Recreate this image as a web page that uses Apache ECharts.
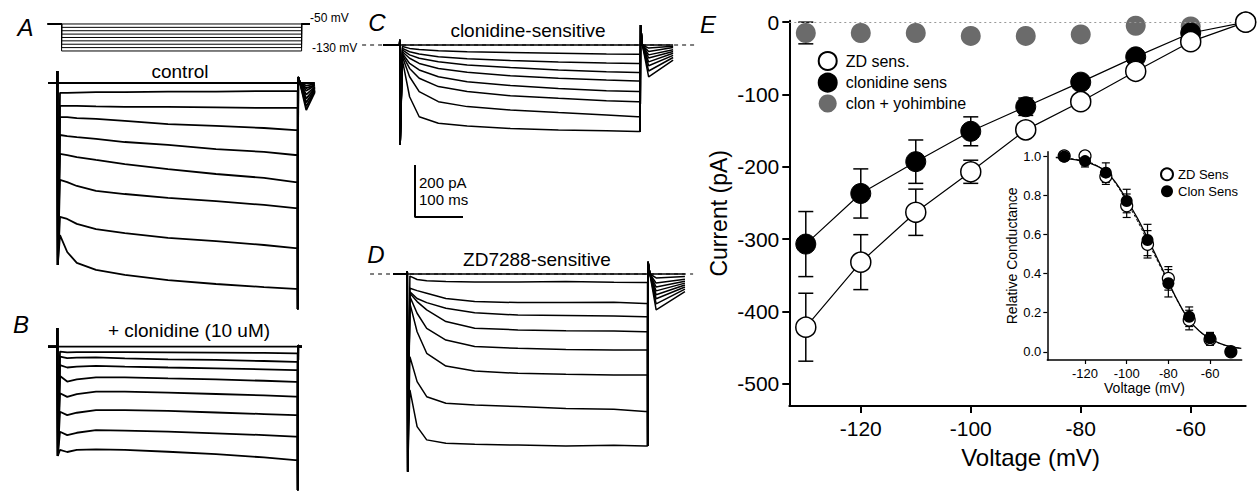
<!DOCTYPE html>
<html>
<head>
<meta charset="utf-8">
<title>Ih: clonidine- and ZD7288-sensitive currents</title>
<script src="https://cdn.jsdelivr.net/npm/echarts@6.0.0/dist/echarts.min.js"></script>
<style>
  html, body { margin: 0; padding: 0; background: #fff; }
  #fig { width: 1260px; height: 491px; }
</style>
</head>
<body>
<div id="fig"></div>
<script>
var FONT = '"Liberation Sans", Arial, Helvetica, sans-serif';

// ---------- panel E: I-V relation (pA) ----------
var voltages    = [-130, -120, -110, -100, -90, -80, -70, -60, -50];
var zdCurrent   = [-422, -332, -263, -207, -149, -110, -68, -27, 0];
var zdErr       = [47, 38, 32, 16, 8, 6, 5, 4, 0];
var clonCurrent = [-307, -237, -193, -151, -117, -83, -48, -15, 0];
var clonErr     = [45, 34, 30, 20, 12, 5, 4, 3, 0];
var yohVoltages = [-130, -120, -110, -100, -90, -80, -70, -60];
var yohCurrent  = [-15, -15, -15, -19, -19, -17, -5, -6];
var yohErr      = [15, 0, 0, 0, 0, 0, 0, 0];

// ---------- inset: relative conductance ----------
var zdG       = [1.0, 1.0, 0.895, 0.746, 0.549, 0.375, 0.162, 0.063, 0.0];
var zdGErr    = [0.01, 0.02, 0.04, 0.06, 0.07, 0.06, 0.05, 0.03, 0.01];
var clonG     = [0.997, 0.974, 0.915, 0.77, 0.571, 0.35, 0.179, 0.069, 0.0];
var clonGErr  = [0.01, 0.03, 0.05, 0.06, 0.08, 0.07, 0.05, 0.03, 0.01];
var fitVolt   = [-134, -130, -125, -120, -115, -110, -105, -100, -95, -90, -85, -80, -75, -70, -65, -60, -55, -50, -45];
var clonFit   = [0.992, 0.988, 0.981, 0.971, 0.952, 0.92, 0.86, 0.775, 0.685, 0.58, 0.47, 0.358, 0.25, 0.162, 0.105, 0.068, 0.042, 0.026, 0.017];
var zdFit     = [0.994, 0.99, 0.984, 0.974, 0.955, 0.918, 0.855, 0.765, 0.672, 0.565, 0.46, 0.352, 0.248, 0.163, 0.104, 0.066, 0.041, 0.026, 0.017];

// ---------- voltage-clamp traces (pA), read at these times (ms) ----------
var traceTimes = [25, 40, 60, 100, 160, 250, 350, 450, 515];
var STEP_ON = 20, STEP_OFF = 520, TAIL_PEAK = 538;

var controlTraces = [
  [-38, -38, -37, -35, -35, -33, -33, -31, -31],
  [-88, -88, -88, -90, -92, -92, -94, -96, -96],
  [-131, -131, -135, -138, -146, -158, -165, -173, -181],
  [-200, -204, -208, -215, -227, -238, -254, -265, -277],
  [-273, -277, -285, -296, -312, -331, -350, -365, -381],
  [-373, -381, -396, -415, -427, -442, -454, -469, -481],
  [-515, -523, -542, -562, -577, -596, -608, -623, -635],
  [-585, -650, -692, -719, -738, -758, -773, -785, -792]
];
var controlEdges = [46, -700, 23, -870];     // on spike, on dip, off spike, off dip
var controlTails = [[-10, -4], [-20, -8], [-30, -10], [-45, -15], [-60, -20], [-75, -25], [-90, -30], [-104, -35]];

var clonidineTraces = [
  [-19, -22, -21, -21, -21, -22, -23, -24, -26],
  [-38, -44, -42, -41, -45, -49, -51, -55, -58],
  [-71, -80, -77, -74, -77, -80, -83, -87, -90],
  [-113, -134, -126, -118, -118, -122, -126, -131, -135],
  [-179, -193, -182, -173, -173, -177, -182, -187, -192],
  [-250, -263, -254, -244, -244, -247, -253, -259, -263],
  [-327, -340, -331, -321, -323, -327, -333, -340, -346],
  [-397, -405, -397, -395, -397, -404, -413, -426, -436]
];
var clonidineEdges = [72, -420, 5, -552];

var clonSensTraces = [
  [-6, -13, -17, -22, -26, -29, -32, -35, -36],
  [-13, -26, -35, -45, -53, -60, -65, -69, -71],
  [-19, -38, -51, -64, -77, -87, -96, -103, -106],
  [-26, -51, -71, -90, -105, -118, -128, -135, -138],
  [-32, -71, -96, -122, -141, -156, -167, -176, -179],
  [-38, -90, -128, -160, -179, -195, -205, -214, -218],
  [-45, -122, -179, -218, -237, -250, -260, -269, -276],
  [-58, -199, -276, -301, -312, -321, -327, -330, -333]
];
var clonSensEdges = [20, -385, 77, -333];
var clonSensTails = [[-12, -5], [-25, -10], [-38, -18], [-50, -25], [-65, -32], [-80, -40], [-100, -48], [-123, -58]];

var zdSensTraces = [
  [-8, -21, -26, -29, -31, -31, -29, -32, -33],
  [-55, -64, -74, -94, -106, -110, -110, -109, -113],
  [-68, -94, -110, -132, -149, -158, -160, -162, -164],
  [-74, -106, -138, -183, -209, -215, -218, -219, -222],
  [-87, -151, -209, -254, -279, -286, -290, -292, -292],
  [-113, -222, -305, -354, -373, -382, -386, -388, -388],
  [-318, -414, -472, -497, -504, -510, -517, -520, -529],
  [-446, -587, -638, -651, -655, -658, -662, -659, -662]
];
var zdSensEdges = [10, -761, 47, -662];
var zdSensTails = [[-15, -10], [-35, -20], [-50, -28], [-65, -35], [-80, -42], [-95, -50], [-115, -58], [-138, -68]];

// voltage protocol (mV)
var holdingMv = -50;
var stepLevels = [-50, -60, -70, -80, -90, -100, -110, -120, -130];
var scaleBarPa = 200, scaleBarMs = 100;

// ---------- layout helpers ----------
var PX_PER_MS = 0.48, PX_PER_PA = 0.26;
function traceGrid(x0, y0, tMin, tMax, iMin, iMax) {
  return { left: x0 + tMin * PX_PER_MS, top: y0 - iMax * PX_PER_PA,
           width: (tMax - tMin) * PX_PER_MS, height: (iMax - iMin) * PX_PER_PA,
           outerBoundsMode: 'none', containLabel: false };
}

function tracePoints(levels, edges, tail, tStart, tEnd) {
  var pts = [[tStart, 0], [STEP_ON - 1, 0], [STEP_ON - 0.4, edges[0]], [STEP_ON + 0.4, edges[1]]];
  for (var i = 0; i < traceTimes.length; i++) pts.push([traceTimes[i], levels[i]]);
  pts.push([STEP_OFF, levels[levels.length - 1]], [STEP_OFF + 0.4, edges[3]], [STEP_OFF + 1.2, edges[2]]);
  if (tail) pts.push([STEP_OFF + 5, 0], [TAIL_PEAK, tail[0]], [tEnd, tail[1]]);
  else pts.push([STEP_OFF + 4, 0], [tEnd, 0]);
  return pts;
}

var panels = [
  { grid: 3, x0: 48,    y0: 83,    iMin: -900, iMax: 100, t0: 0,   t1: 556, w: 1.8,
    traces: controlTraces, edges: controlEdges, tails: controlTails },
  { grid: 4, x0: 48,    y0: 346.7, iMin: -555, iMax: 100, t0: 0,   t1: 529, w: 1.8,
    traces: clonidineTraces, edges: clonidineEdges, tails: null },
  { grid: 5, x0: 390.4, y0: 45,    iMin: -400, iMax: 100, t0: -15, t1: 589, w: 1.5,
    traces: clonSensTraces, edges: clonSensEdges, tails: clonSensTails, dash: [-59, 635] },
  { grid: 6, x0: 397.9, y0: 274,   iMin: -800, iMax: 100, t0: -10, t1: 598, w: 1.5,
    traces: zdSensTraces, edges: zdSensEdges, tails: zdSensTails, dash: [-58, 615] }
];

function errRows(xs, ys, es) {
  var rows = [];
  for (var i = 0; i < xs.length; i++) if (es[i] > 0) rows.push([xs[i], ys[i], es[i]]);
  return rows;
}
function errorBar(capHalf, lw) {
  return function (params, api) {
    var x = api.value(0), y = api.value(1), e = api.value(2);
    var a = api.coord([x, y + e]), b = api.coord([x, y - e]);
    var st = { stroke: '#000', lineWidth: lw };
    return { type: 'group', children: [
      { type: 'line', shape: { x1: a[0], y1: a[1], x2: b[0], y2: b[1] }, style: st },
      { type: 'line', shape: { x1: a[0] - capHalf, y1: a[1], x2: a[0] + capHalf, y2: a[1] }, style: st },
      { type: 'line', shape: { x1: b[0] - capHalf, y1: b[1], x2: b[0] + capHalf, y2: b[1] }, style: st }
    ] };
  };
}
function pairs(xs, ys) { return xs.map(function (x, i) { return [x, ys[i]]; }); }

// ---------- grids & axes ----------
var grids = [
  { left: 789.3, top: 20.7, width: 456.4, height: 385.3, outerBoundsMode: 'none', containLabel: false },
  { left: 1047.3, top: 151.7, width: 194.4, height: 208.3, outerBoundsMode: 'none', containLabel: false },
  { left: 42.4, top: 20.6, width: 307.2, height: 33.75, outerBoundsMode: 'none', containLabel: false }
];
panels.forEach(function (p) {
  var tMin = p.dash ? -70 : -20, tMax = p.dash ? 640 : 620;
  p.tMin = tMin; p.tMax = tMax;
  grids.push(traceGrid(p.x0, p.y0, tMin, tMax, p.iMin, p.iMax));
});
grids.push({ left: 410.2, top: 159.8, width: 57.6, height: 62.4, outerBoundsMode: 'none', containLabel: false });

var xAxes = [
  { gridIndex: 0, type: 'value', min: -133, max: -50,
    name: 'Voltage (mV)', nameLocation: 'middle', nameGap: 39,
    nameTextStyle: { fontFamily: FONT, fontSize: 24, color: '#000', padding: [0, 0, 0, 26] },
    axisLine: { onZero: false, lineStyle: { color: '#000', width: 2 } },
    axisTick: { length: 7, lineStyle: { color: '#000', width: 2 }, customValues: [-120, -100, -80, -60] },
    axisLabel: { fontFamily: FONT, fontSize: 21, color: '#000', margin: 12, customValues: [-120, -100, -80, -60] },
    splitLine: { show: false } },
  { gridIndex: 1, type: 'value', min: -138.1, max: -44.8,
    name: 'Voltage (mV)', nameLocation: 'middle', nameGap: 21,
    nameTextStyle: { fontFamily: FONT, fontSize: 14, color: '#000' },
    axisLine: { onZero: false, lineStyle: { color: '#000', width: 1.5 } },
    axisTick: { length: 4, lineStyle: { color: '#000', width: 1.2 }, customValues: [-120, -100, -80, -60] },
    axisLabel: { fontFamily: FONT, fontSize: 13, color: '#000', margin: 7, customValues: [-120, -100, -80, -60] },
    splitLine: { show: false } },
  { gridIndex: 2, type: 'value', min: -20, max: 620, show: false }
];
var yAxes = [
  { gridIndex: 0, type: 'value', min: -531, max: 2,
    name: 'Current (pA)', nameLocation: 'middle', nameGap: 59,
    nameTextStyle: { fontFamily: FONT, fontSize: 23, color: '#000' },
    axisLine: { onZero: false, lineStyle: { color: '#000', width: 2 } },
    axisTick: { length: 7, lineStyle: { color: '#000', width: 2 }, customValues: [-500, -400, -300, -200, -100, 0] },
    axisLabel: { fontFamily: FONT, fontSize: 21, color: '#000', margin: 10, customValues: [-500, -400, -300, -200, -100, 0] },
    splitLine: { show: false } },
  { gridIndex: 1, type: 'value', min: -0.042, max: 1.022,
    name: 'Relative Conductance', nameLocation: 'middle', nameGap: 24,
    nameTextStyle: { fontFamily: FONT, fontSize: 14, color: '#000' },
    axisLine: { onZero: false, lineStyle: { color: '#000', width: 1.5 } },
    axisTick: { length: 4, lineStyle: { color: '#000', width: 1.2 }, customValues: [0, 0.2, 0.4, 0.6, 0.8, 1.0] },
    axisLabel: { fontFamily: FONT, fontSize: 13, color: '#000', margin: 6, customValues: [0, 0.2, 0.4, 0.6, 0.8, 1.0],
                 formatter: function (v) { return v.toFixed(1); } },
    splitLine: { show: false } },
  { gridIndex: 2, type: 'value', min: -140, max: -40, show: false }
];
panels.forEach(function (p) {
  xAxes.push({ gridIndex: p.grid, type: 'value', min: p.tMin, max: p.tMax, show: false });
  yAxes.push({ gridIndex: p.grid, type: 'value', min: p.iMin, max: p.iMax, show: false });
});
xAxes.push({ gridIndex: 7, type: 'value', min: -10, max: 110, show: false });
yAxes.push({ gridIndex: 7, type: 'value', min: -20, max: 220, show: false });

// ---------- series ----------
var series = [
  { type: 'custom', name: 'iv errors', xAxisIndex: 0, yAxisIndex: 0, z: 2, silent: true,
    renderItem: errorBar(7.5, 1.5),
    data: errRows(voltages, zdCurrent, zdErr).concat(errRows(voltages, clonCurrent, clonErr), errRows(yohVoltages, yohCurrent, yohErr)),
    markLine: { symbol: 'none', silent: true, label: { show: false },
                lineStyle: { color: '#999', type: [2, 3], width: 1 }, data: [{ yAxis: 0 }] } },
  { type: 'scatter', name: 'clon + yohimbine', xAxisIndex: 0, yAxisIndex: 0, z: 3, symbolSize: 20,
    itemStyle: { color: '#6b6b6b', opacity: 1 }, data: pairs(yohVoltages, yohCurrent) },
  { type: 'line', name: 'clonidine sens', xAxisIndex: 0, yAxisIndex: 0, z: 4, symbol: 'circle', symbolSize: 20,
    showSymbol: true, showAllSymbol: true, lineStyle: { color: '#000', width: 1.2 },
    itemStyle: { color: '#000', borderColor: '#000', borderWidth: 1, opacity: 1 }, data: pairs(voltages, clonCurrent) },
  { type: 'line', name: 'ZD sens.', xAxisIndex: 0, yAxisIndex: 0, z: 5, symbol: 'circle', symbolSize: 20,
    showSymbol: true, showAllSymbol: true, lineStyle: { color: '#000', width: 1.2 },
    itemStyle: { color: '#fff', borderColor: '#000', borderWidth: 1.5, opacity: 1 }, data: pairs(voltages, zdCurrent) },

  { type: 'custom', name: 'g errors', xAxisIndex: 1, yAxisIndex: 1, z: 2, silent: true,
    renderItem: errorBar(4, 1.2),
    data: errRows(voltages, zdG, zdGErr).concat(errRows(voltages, clonG, clonGErr)) },
  { type: 'line', name: 'Clon fit', xAxisIndex: 1, yAxisIndex: 1, z: 3, smooth: true, showSymbol: false, symbol: 'none',
    lineStyle: { color: '#000', width: 1.3 }, data: pairs(fitVolt, clonFit) },
  { type: 'line', name: 'ZD fit', xAxisIndex: 1, yAxisIndex: 1, z: 3, smooth: true, showSymbol: false, symbol: 'none',
    lineStyle: { color: '#000', width: 1, type: [3, 2] }, data: pairs(fitVolt, zdFit) },
  { type: 'scatter', name: 'ZD Sens', xAxisIndex: 1, yAxisIndex: 1, z: 4, symbolSize: 12,
    itemStyle: { color: '#fff', borderColor: '#000', borderWidth: 1.2, opacity: 1 }, data: pairs(voltages, zdG) },
  { type: 'scatter', name: 'Clon Sens', xAxisIndex: 1, yAxisIndex: 1, z: 5, symbolSize: 12,
    itemStyle: { color: '#000', opacity: 1 }, data: pairs(voltages, clonG) }
];

// voltage protocol
stepLevels.forEach(function (v) {
  series.push({ type: 'line', xAxisIndex: 2, yAxisIndex: 2, silent: true, symbol: 'none', showSymbol: false,
    lineStyle: { color: '#000', width: 1 },
    data: [[-9, holdingMv], [STEP_ON, holdingMv], [STEP_ON, v], [STEP_OFF, v], [STEP_OFF, holdingMv], [537, holdingMv]] });
});

// current traces
panels.forEach(function (p) {
  var all = [[[p.t0, 0], [p.t1, 0]]];
  p.traces.forEach(function (lv, k) { all.push(tracePoints(lv, p.edges, p.tails ? p.tails[k] : null, p.t0, p.t1)); });
  all.forEach(function (pts) {
    series.push({ type: 'line', xAxisIndex: p.grid, yAxisIndex: p.grid, silent: true, symbol: 'none', showSymbol: false,
      lineStyle: { color: '#000', width: p.w }, data: pts });
  });
  if (p.dash) {
    series.push({ type: 'line', xAxisIndex: p.grid, yAxisIndex: p.grid, silent: true, symbol: 'none', showSymbol: false,
      z: 1, lineStyle: { color: '#000', width: 1.2, type: [4, 4] }, data: [[p.dash[0], 0], [p.dash[1], 0]] });
  }
});

// scale bar
series.push({ type: 'line', xAxisIndex: 7, yAxisIndex: 7, silent: true, symbol: 'none', showSymbol: false,
  lineStyle: { color: '#000', width: 2 }, data: [[0, scaleBarPa], [0, 0], [scaleBarMs, 0]] });

// ---------- text annotations ----------
function txt(text, x, y, size, align, italic) {
  return { type: 'text', x: x, y: y, silent: true,
    style: { text: text, font: (italic ? 'italic ' : '') + size + 'px ' + FONT, fill: '#000',
             textAlign: align || 'center', textVerticalAlign: 'middle' } };
}
var graphics = [
  txt('A', 25.5, 27, 24, 'center', true),
  txt('B', 21, 324, 24, 'center', true),
  txt('C', 377, 22, 24, 'center', true),
  txt('D', 376, 254, 24, 'center', true),
  txt('E', 708, 24, 24, 'center', true),
  txt('control', 180, 71, 19),
  txt('+ clonidine (10 uM)', 189, 330, 19),
  txt('clonidine-sensitive', 528, 30, 19),
  txt('ZD7288-sensitive', 537, 259, 19),
  txt('-50 mV', 310, 17.5, 12, 'left'),
  txt('-130 mV', 312, 48, 12, 'left'),
  txt(scaleBarPa + ' pA', 419, 182.5, 15, 'left'),
  txt(scaleBarMs + ' ms', 419, 199, 15, 'left')
];

var chart = echarts.init(document.getElementById('fig'), null, { renderer: 'svg' });
chart.setOption({
  backgroundColor: '#fff',
  animation: false,
  textStyle: { fontFamily: FONT },
  grid: grids,
  xAxis: xAxes,
  yAxis: yAxes,
  legend: [
    { data: ['ZD sens.', 'clonidine sens', 'clon + yohimbine'], orient: 'vertical', left: 817.7, top: 51,
      padding: 0, itemWidth: 18, itemHeight: 18, itemGap: 1.7, icon: 'circle', selectedMode: false,
      textStyle: { fontFamily: FONT, fontSize: 16, color: '#000', padding: [0, 0, 0, 4] } },
    { data: ['ZD Sens', 'Clon Sens'], orient: 'vertical', left: 1160, top: 167.3,
      padding: 0, itemWidth: 12, itemHeight: 12, itemGap: 3.4, icon: 'circle', selectedMode: false,
      textStyle: { fontFamily: FONT, fontSize: 13, color: '#000' } }
  ],
  series: series,
  graphic: graphics
});
</script>
</body>
</html>
